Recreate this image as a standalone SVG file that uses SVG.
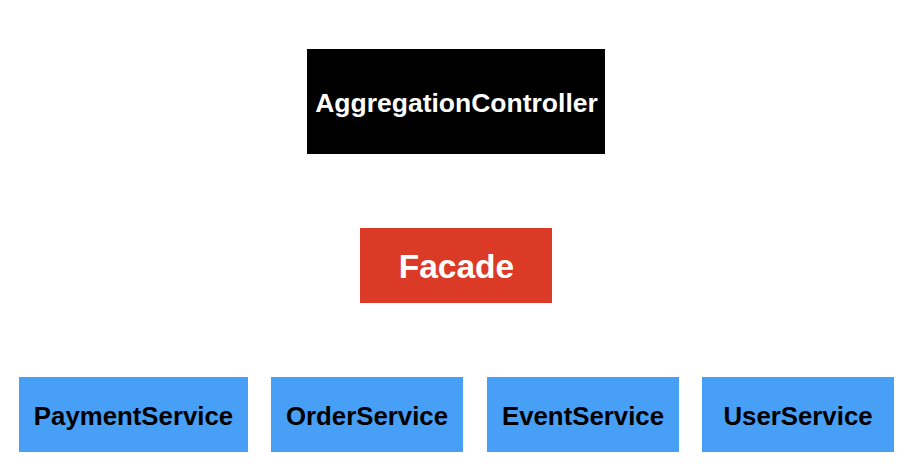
<svg xmlns="http://www.w3.org/2000/svg" width="912" height="476" viewBox="0 0 912 476">
<style>
text{font-family:"Liberation Sans",Arial,sans-serif;font-weight:bold;text-anchor:middle}
.svc rect{fill:#489ff6}
.svc text{fill:#000;font-size:25.8px}
</style>
<rect width="912" height="476" fill="#fff"/>
<g id="connectors"></g>
<g id="aggregation-controller">
<rect x="307" y="49" width="298" height="105" fill="#000"/>
<text x="456.5" y="111.5" fill="#fff" font-size="26.5">AggregationController</text>
</g>
<g id="facade">
<rect x="360" y="228" width="192" height="75" fill="#db3b26"/>
<text x="456.5" y="278" fill="#fff" font-size="33.5">Facade</text>
</g>
<g id="payment-service" class="svc">
<rect x="19" y="377" width="229" height="75"/>
<text x="133.5" y="425">PaymentService</text>
</g>
<g id="order-service" class="svc">
<rect x="271" y="377" width="192" height="75"/>
<text x="367" y="425">OrderService</text>
</g>
<g id="event-service" class="svc">
<rect x="487" y="377" width="192" height="75"/>
<text x="583" y="425">EventService</text>
</g>
<g id="user-service" class="svc">
<rect x="702" y="377" width="192" height="75"/>
<text x="798" y="425">UserService</text>
</g>
</svg>
